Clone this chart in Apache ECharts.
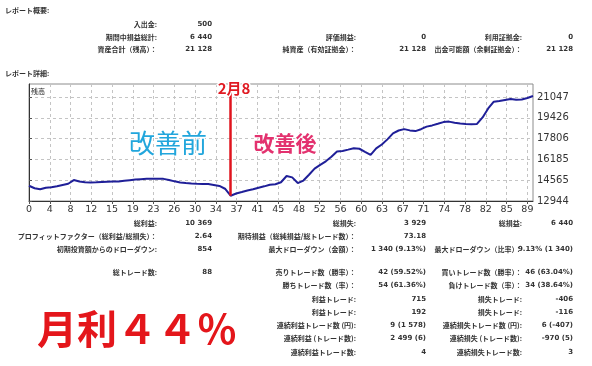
<!DOCTYPE html>
<html><head><meta charset="utf-8">
<script src="https://cdn.jsdelivr.net/npm/echarts@6/dist/echarts.min.js"></script>
<style>html,body{margin:0;padding:0;background:#fff}#c{width:592px;height:366px}</style>
</head><body><div id="c"></div>
<script>
// ---- data ----
const xTickLabels = ['0','4','8','12','15','19','23','26','30','34','37','41','45','48','52','56','60','63','67','71','74','78','82','85','89'];
const yTickValues = [12944, 14565, 16185, 17806, 19426, 21047];
const balance = [
 14133,13938,13853,13977,14024,14094,14195,14288,14576,14459,
 14413,14389,14405,14428,14451,14467,14467,14521,14568,14615,
 14646,14677,14677,14677,14669,14576,14475,14389,14343,14304,
 14280,14273,14265,14195,14117,13900,13356,13527,13643,13768,
 13853,13977,14086,14211,14249,14405,14894,14785,14343,14537,
 14987,15469,15764,16036,16386,16798,16844,16945,17054,17015,
 16775,16541,17046,17349,17746,18212,18437,18546,18445,18391,
 18538,18740,18834,18958,19090,19129,19044,18974,18943,18927,
 18950,19455,20155,20683,20737,20815,20893,20831,20855,20970,
 21128
];
const changeIndex = 36;
const summaryRows = [
  ['入出金:', '500'],
  ['期間中損益総計:', '6 440', '評価損益:', '0', '利用証拠金:', '0'],
  ['資産合計（残高）：', '21 128', '純資産（有効証拠金）：', '21 128', '出金可能額（余剰証拠金）：', '21 128']
];
const detailRows = [
  ['総利益:', '10 369', '総損失:', '3 929', '総損益:', '6 440'],
  ['プロフィットファクター（総利益/総損失）：', '2.64', '期待損益（総純損益/総トレード数）：', '73.18'],
  ['初期投資額からのドローダウン:', '854', '最大ドローダウン（金額）：', '1 340 (9.13%)', '最大ドローダウン（比率）：', '9.13% (1 340)'],
  ['総トレード数:', '88', '売りトレード数（勝率）：', '42 (59.52%)', '買いトレード数（勝率）：', '46 (63.04%)'],
  ['', '', '勝ちトレード数（率）：', '54 (61.36%)', '負けトレード数（率）：', '34 (38.64%)'],
  ['', '', '利益トレード:', '715', '損失トレード:', '-406'],
  ['', '', '利益トレード:', '192', '損失トレード:', '-116'],
  ['', '', '連続利益トレード数 (円):', '9 (1 578)', '連続損失トレード数 (円):', '6 (-407)'],
  ['', '', '連続利益 (トレード数):', '2 499 (6)', '連続損失 (トレード数):', '-970 (5)'],
  ['', '', '連続利益トレード数:', '4', '連続損失トレード数:', '3']
];

// ---- layout ----
const X_MAX = 90, Y_MIN = 12944, Y_MAX = 22060;
const xStep = 89 / (xTickLabels.length - 1);
const xTickValues = xTickLabels.map((_, k) => k * xStep);
const colX = [157, 212, 356, 426, 522, 573];
const summaryY = [24, 37, 49.5];
const detailY = [223, 236, 249, 272, 285, 299, 312, 325, 338, 352];
const JP = '"Noto Sans CJK JP"';
const LAT = '"DejaVu Sans"';

const graphics = [];
function txt(x, y, s, font, fill, align, extra) {
  if (!s) return;
  graphics.push({type:'text', x:x, y:y, z:100,
    style: Object.assign({text:s, font:font, fill:fill, align:align||'right', verticalAlign:'middle'}, extra||{})});
}
function rowTexts(rows, ys) {
  rows.forEach((r, i) => {
    r.forEach((s, j) => {
      const isLabel = j % 2 === 0;
      txt(colX[j], ys[i], s, isLabel ? 'bold 7px ' + JP : 'bold 7px ' + LAT, '#333', 'right');
    });
  });
}
txt(5, 10, 'レポート概要:', 'bold 7px ' + JP, '#333', 'left');
txt(5, 73, 'レポート詳細:', 'bold 7px ' + JP, '#333', 'left');
rowTexts(summaryRows, summaryY);
rowTexts(detailRows, detailY);
txt(31, 91, '残高', '7px ' + JP, '#222', 'left');
txt(168, 143, '改善前', '26px ' + JP, '#22a6dc', 'center',
  {stroke:'#fff', lineWidth:2, shadowColor:'rgba(0,0,0,0.35)', shadowBlur:3, shadowOffsetY:1});
txt(285, 143, '改善後', 'bold 21px ' + JP, '#e3326f', 'center',
  {stroke:'#fff', lineWidth:2, shadowColor:'rgba(0,0,0,0.3)', shadowBlur:3, shadowOffsetY:1});
txt(234, 88, '2月8', 'bold 15px ' + JP, '#e01a22', 'center',
  {stroke:'#fff', lineWidth:3});
txt(37, 329, '月利４４％', 'bold 40px ' + JP, '#e4161b', 'left');

const gridStyle = {color:'#c4c4c4', type:[3,3], width:1};

const chart = echarts.init(document.getElementById('c'), null, {renderer:'canvas'});
chart.setOption({
  backgroundColor:'#fff',
  animation:false,
  grid:{left:29, right:59, top:84, bottom:165, show:true, borderColor:'#8c8c8c', borderWidth:1, backgroundColor:'#fff'},
  xAxis:{
    type:'value', min:0, max:X_MAX,
    axisLine:{show:true, lineStyle:{color:'#333', width:1}},
    axisTick:{show:true, customValues:xTickValues, length:3, lineStyle:{color:'#555'}},
    axisLabel:{customValues:xTickValues, margin:4, color:'#333', fontSize:9.5, fontFamily:'DejaVu Sans',
      formatter:(v) => xTickLabels[Math.round(v / xStep)]},
    splitLine:{show:true, lineStyle:gridStyle}
  },
  yAxis:{
    type:'value', position:'right', min:Y_MIN, max:Y_MAX, scale:true,
    axisLine:{show:true, lineStyle:{color:'#333', width:1}},
    axisTick:{show:true, customValues:yTickValues, length:3, lineStyle:{color:'#555'}},
    axisLabel:{customValues:yTickValues, margin:4, color:'#333', fontSize:10, fontFamily:'DejaVu Sans',
      formatter:(v) => String(Math.round(v))},
    splitLine:{show:true, lineStyle:gridStyle}
  },
  series:[{
    type:'line', data:balance.map((v, i) => [i, v]), showSymbol:false, symbol:'none',
    lineStyle:{color:'#1f1f98', width:2}, z:3,
    markLine:{silent:true, symbol:'none', label:{show:false},
      lineStyle:{color:'#e0141e', width:2.5, type:'solid'},
      data:[[{coord:[changeIndex, Y_MAX]}, {coord:[changeIndex, balance[changeIndex]]}]]}
  }],
  graphic:graphics
});
</script></body></html>
